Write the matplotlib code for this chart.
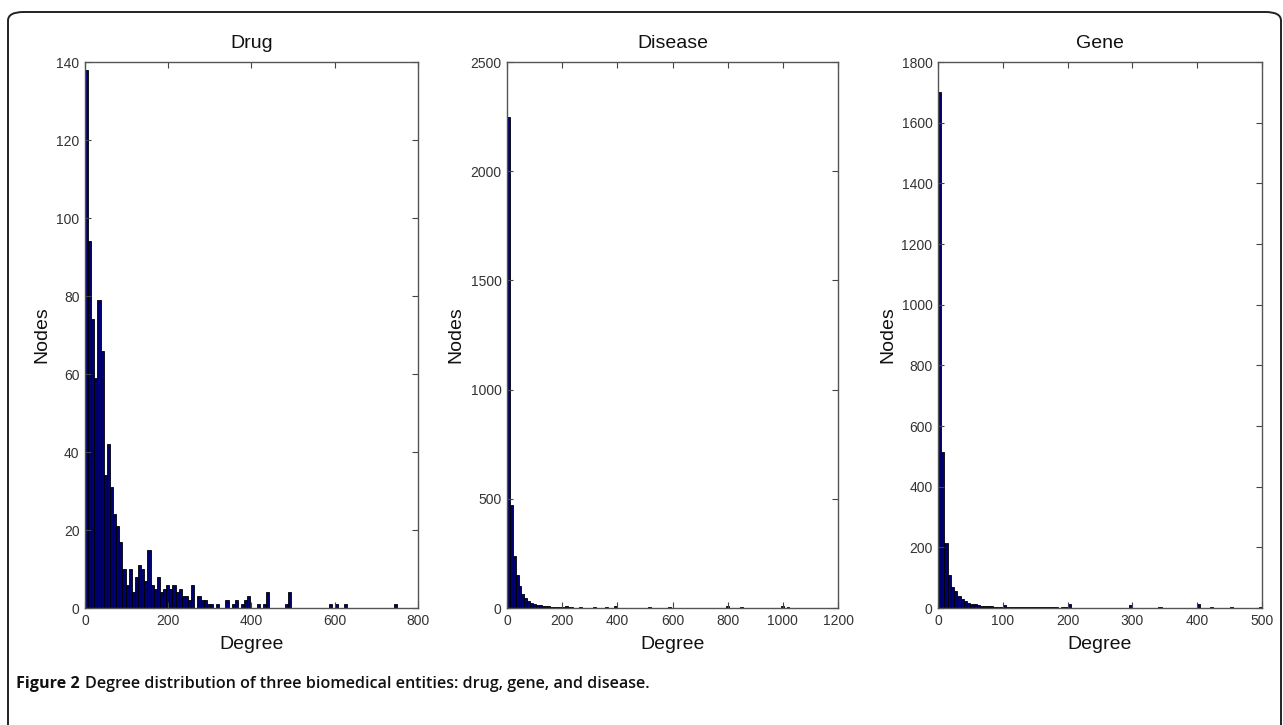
import numpy as np
import matplotlib
matplotlib.use("Agg")
import matplotlib.pyplot as plt
from matplotlib.patches import FancyBboxPatch

plt.rcParams['font.family'] = ['Liberation Sans', 'DejaVu Sans']

# histogram counts, one entry per bin (bins start at 0)
drug_bw = 7.5
drug_counts = [138, 94, 74, 59, 79, 66, 34, 42, 31, 24,
               21, 17, 10, 6, 10, 4, 8, 11, 10, 7,
               15, 6, 5, 8, 4, 5, 6, 5, 6, 4,
               5, 3, 3, 2, 6, 0, 3, 2, 2, 1,
               1, 0, 1, 0, 0, 2, 0, 1, 2, 0,
               1, 2, 3, 0, 0, 1, 0, 1, 4, 0,
               0, 0, 0, 0, 1, 4, 0, 0, 0, 0,
               0, 0, 0, 0, 0, 0, 0, 0, 1, 0,
               1, 0, 0, 1, 0, 0, 0, 0, 0, 0,
               0, 0, 0, 0, 0, 0, 0, 0, 0, 1]

disease_bw = 10.45
disease_counts = [2250, 470, 240, 150, 100, 65, 45, 32, 25, 18,
                  15, 12, 10, 9, 7, 6, 5, 5, 4, 4,
                  8, 3, 3, 2, 2, 3, 2, 2, 1, 2,
                  3, 2, 2, 2, 3, 2, 1, 8, 2, 1,
                  2, 1, 2, 1, 1, 1, 1, 2, 1, 6,
                  1, 1, 2, 1, 1, 0, 6, 0, 1, 1,
                  0, 0, 0, 0, 0, 0, 0, 0, 0, 0,
                  0, 0, 0, 0, 0, 0, 9, 0, 0, 0,
                  0, 4, 0, 0, 0, 0, 0, 0, 0, 0,
                  0, 0, 0, 0, 0, 8, 0, 4, 0, 0]

gene_bw = 5.0
gene_counts = [1700, 515, 213, 110, 68, 55, 40, 30, 22, 17,
               14, 12, 9, 8, 7, 6, 5, 4, 3, 3,
               10, 2, 2, 3, 2, 3, 4, 2, 3, 4,
               2, 3, 4, 2, 2, 4, 2, 0, 2, 3,
               12, 0, 0, 0, 0, 0, 0, 0, 0, 0,
               0, 0, 0, 0, 0, 0, 0, 0, 0, 10,
               0, 0, 0, 0, 0, 0, 0, 0, 4, 0,
               0, 0, 0, 0, 0, 0, 0, 0, 0, 0,
               12, 0, 0, 0, 4, 0, 0, 0, 0, 0,
               4, 0, 0, 0, 0, 0, 0, 0, 0, 4]

titles = ["Drug", "Disease", "Gene"]
xlims = [800, 1200, 500]
xsteps = [200, 200, 100]
ylims = [140, 2500, 1800]
ysteps = [20, 500, 200]
caption_bold = "Figure 2"
caption_rest = "Degree distribution of three biomedical entities: drug, gene, and disease."

W, H = 1283, 725
fig = plt.figure(figsize=(W / 100, H / 100), dpi=100)

# outer rounded frame of the journal figure
frame = FancyBboxPatch((8 / W, -0.05), (W - 10) / W, 1 - 12 / H + 0.05,
                       boxstyle="round,pad=0,rounding_size=0.012",
                       transform=fig.transFigure, fill=False,
                       edgecolor="#222222", linewidth=1.4)
fig.patches.append(frame)

# axes boxes in pixels: left, width
boxes = [(85, 333), (507, 331), (938, 324)]
top_px, bot_px = 62, 608

data = [(drug_counts, drug_bw), (disease_counts, disease_bw), (gene_counts, gene_bw)]

for i, ((left, width), (counts, bw)) in enumerate(zip(boxes, data)):
    ax = fig.add_axes([left / W, 1 - bot_px / H, width / W, (bot_px - top_px) / H])
    edges = np.arange(len(counts)) * bw
    ax.bar(edges, counts, width=bw, align='edge', color='#000070',
           edgecolor='black', linewidth=0.6)
    ax.set_xlim(0, xlims[i])
    ax.set_ylim(0, ylims[i])
    ax.set_xticks(np.arange(0, xlims[i] + 1, xsteps[i]))
    ax.set_yticks(np.arange(0, ylims[i] + 1, ysteps[i]))
    ax.tick_params(direction='in', top=True, right=True, length=4,
                   width=0.8, color='#444444', labelsize=10,
                   labelcolor='#333333', pad=4)
    for s in ax.spines.values():
        s.set_color('#555555')
        s.set_linewidth(1.0)
    ax.set_title(titles[i], fontsize=14, pad=10, color='#111111')
    ax.set_xlabel("Degree", fontsize=14, labelpad=6, color='#111111')
    ax.set_ylabel("Nodes", fontsize=14, labelpad=4, color='#111111')

t1 = fig.text(16 / W, 1 - 684 / H, caption_bold, fontsize=11.6, fontweight='bold',
              family=['Open Sans', 'DejaVu Sans'], va='center', color='#111111')
fig.canvas.draw()
bb = t1.get_window_extent()
fig.text((bb.x1 + 5) / W, 1 - 684 / H, caption_rest, fontsize=11.6, fontweight='semibold',
         family=['Open Sans', 'DejaVu Sans'], va='center', color='#111111')

fig.savefig("out.png", dpi=100)
